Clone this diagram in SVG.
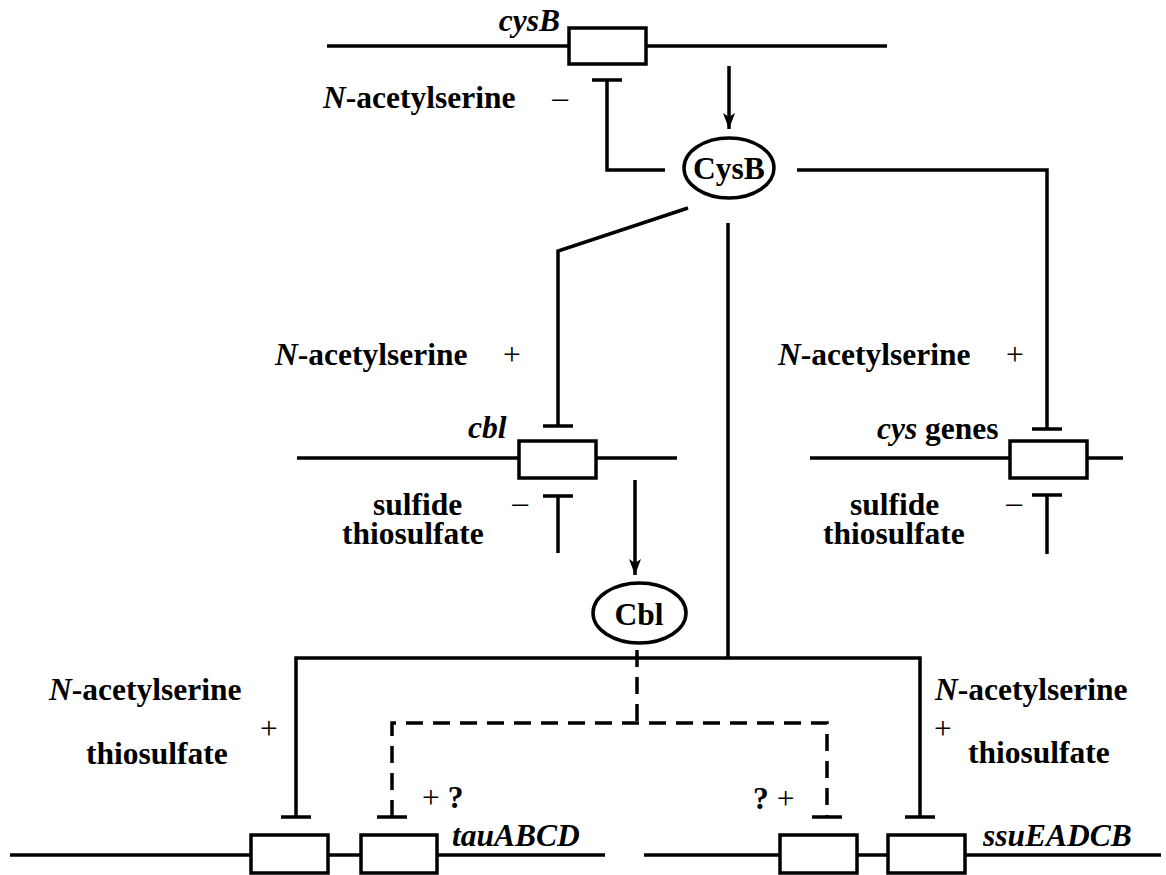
<svg xmlns="http://www.w3.org/2000/svg" width="1166" height="875" viewBox="0 0 1166 875">
<style>
.ln{stroke:#000;stroke-width:3.5;fill:none}
.dash{stroke-dasharray:17 10}
.box{fill:#fff;stroke:#000;stroke-width:3.5}
.ell{fill:#fff;stroke:#000;stroke-width:3.5}
.t{font-family:"Liberation Serif","Times New Roman",serif;font-size:31.5px;font-weight:bold;fill:#000}
.i{font-style:italic}
.r{font-weight:normal}
.m{text-anchor:middle}
</style>
<defs>
<marker id="arr" markerUnits="userSpaceOnUse" viewBox="0 0 16 12" refX="16" refY="6" markerWidth="16" markerHeight="12" orient="auto">
<path d="M0,0 L16,6 L0,12 L4,6 z" fill="#000"/>
</marker>
</defs>
<rect width="1166" height="875" fill="#fff"/>

<g id="connectors">
<!-- cysB -> CysB -->
<line class="ln" x1="729" y1="66" x2="729" y2="129" marker-end="url(#arr)"/>
<!-- CysB autorepression -->
<polyline class="ln" points="665,170 607,170 607,80"/>
<line class="ln" x1="592" y1="80" x2="622" y2="80"/>
<!-- CysB -> cbl -->
<polyline class="ln" points="688,208 558,251 558,426"/>
<line class="ln" x1="543" y1="426" x2="573" y2="426"/>
<!-- CysB -> cys genes -->
<polyline class="ln" points="797,170 1047,170 1047,429"/>
<line class="ln" x1="1032" y1="429" x2="1062" y2="429"/>
<!-- sulfide/thiosulfate on cbl -->
<line class="ln" x1="558" y1="496" x2="558" y2="553"/>
<line class="ln" x1="543" y1="496" x2="573" y2="496"/>
<!-- sulfide/thiosulfate on cys -->
<line class="ln" x1="1047" y1="495" x2="1047" y2="554"/>
<line class="ln" x1="1032" y1="495" x2="1062" y2="495"/>
<!-- cbl -> Cbl -->
<line class="ln" x1="635" y1="480" x2="635" y2="575" marker-end="url(#arr)"/>
<!-- CysB -> tau / ssu -->
<line class="ln" x1="728" y1="223" x2="728" y2="658"/>
<polyline class="ln" points="296,817 296,658 920,658 920,817"/>
<line class="ln" x1="281" y1="817" x2="311" y2="817"/>
<line class="ln" x1="905" y1="817" x2="935" y2="817"/>
<!-- Cbl dashed -->
<line class="ln dash" x1="637" y1="650" x2="637" y2="723"/>
<polyline class="ln dash" points="392,817 392,723 827,723 827,817"/>
<line class="ln" x1="377" y1="817" x2="407" y2="817"/>
<line class="ln" x1="812" y1="817" x2="842" y2="817"/>
</g>

<g id="gene-cysB">
<line class="ln" x1="327" y1="46" x2="887" y2="46"/>
<rect class="box" x="569" y="28" width="77" height="36"/>
<text class="t i" x="560" y="31" text-anchor="end">cysB</text>
</g>

<g id="label-nas-top">
<text class="t" x="323" y="108"><tspan class="i">N</tspan>-acetylserine</text>
<text class="t r m" x="560" y="108">–</text>
</g>

<g id="protein-CysB">
<ellipse class="ell" cx="729" cy="168" rx="45" ry="30"/>
<text class="t m" x="729" y="179">CysB</text>
</g>

<g id="gene-cbl">
<line class="ln" x1="297" y1="458" x2="677" y2="458"/>
<rect class="box" x="519" y="441" width="77" height="37"/>
<text class="t i" x="468" y="438">cbl</text>
<text class="t" x="275" y="365"><tspan class="i">N</tspan>-acetylserine</text>
<text class="t r m" x="512" y="365">+</text>
<text class="t"><tspan x="373" y="515">sulfide</tspan><tspan x="342" y="544">thiosulfate</tspan></text>
<text class="t r m" x="520" y="513">–</text>
</g>

<g id="gene-cys">
<line class="ln" x1="810" y1="458" x2="1123" y2="458"/>
<rect class="box" x="1010" y="441" width="77" height="37"/>
<text class="t" x="877" y="439"><tspan class="i">cys</tspan> genes</text>
<text class="t" x="778" y="365"><tspan class="i">N</tspan>-acetylserine</text>
<text class="t r m" x="1015" y="365">+</text>
<text class="t"><tspan x="850" y="515">sulfide</tspan><tspan x="823" y="544">thiosulfate</tspan></text>
<text class="t r m" x="1014" y="513">–</text>
</g>

<g id="protein-Cbl">
<ellipse class="ell" cx="639.5" cy="613" rx="46.5" ry="30"/>
<text class="t m" x="639" y="625">Cbl</text>
</g>

<g id="gene-tau">
<line class="ln" x1="10" y1="855" x2="605" y2="855"/>
<rect class="box" x="251" y="835" width="77" height="38"/>
<rect class="box" x="361" y="835" width="76" height="38"/>
<text class="t i" x="452" y="846">tauABCD</text>
<text class="t" x="49" y="700"><tspan class="i">N</tspan>-acetylserine</text>
<text class="t r m" x="269" y="739">+</text>
<text class="t" x="86" y="764">thiosulfate</text>
<text class="t" x="422" y="808"><tspan class="r">+</tspan> ?</text>
</g>

<g id="gene-ssu">
<line class="ln" x1="644" y1="855" x2="1161" y2="855"/>
<rect class="box" x="780" y="835" width="77" height="38"/>
<rect class="box" x="888" y="835" width="77" height="38"/>
<text class="t i" x="983" y="846">ssuEADCB</text>
<text class="t" x="935" y="700"><tspan class="i">N</tspan>-acetylserine</text>
<text class="t r m" x="943" y="739">+</text>
<text class="t" x="968" y="763">thiosulfate</text>
<text class="t" x="753" y="809">? <tspan class="r">+</tspan></text>
</g>
</svg>
